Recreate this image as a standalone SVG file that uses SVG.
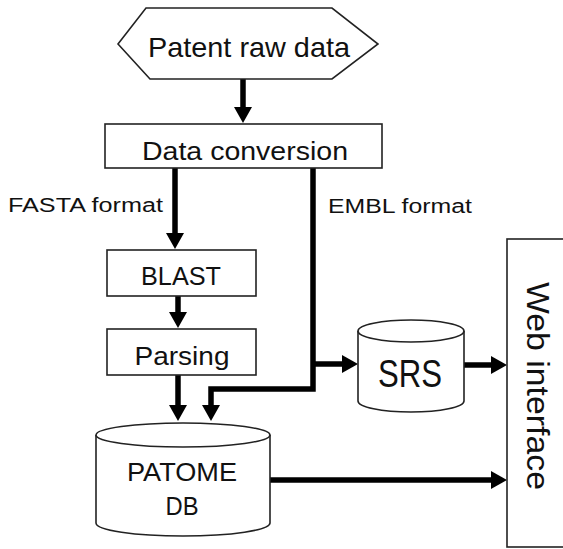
<svg xmlns="http://www.w3.org/2000/svg" width="563" height="549" viewBox="0 0 563 549">
<style>
.shape{fill:#fff;stroke:#222;stroke-width:1.6}
.conn{fill:none;stroke:#000;stroke-width:5.5}
text{font-family:"Liberation Sans",Arial,sans-serif;fill:#111}
.c{text-anchor:middle}
</style>
<defs>
<marker id="ah" viewBox="0 0 16 18" markerWidth="16" markerHeight="18" refX="4" refY="9" orient="auto" markerUnits="userSpaceOnUse">
<path d="M0,0 L16,9 L0,18 z" fill="#000"/>
</marker>
</defs>
<rect width="563" height="549" fill="#fff"/>
<g id="connectors">
<path class="conn" d="M243,79 V111" marker-end="url(#ah)"/>
<path class="conn" d="M175,168 V237" marker-end="url(#ah)"/>
<path class="conn" d="M178,296 V316" marker-end="url(#ah)"/>
<path class="conn" d="M178,375 V409" marker-end="url(#ah)"/>
<path class="conn" d="M313,168 V389 H211 V409" marker-end="url(#ah)"/>
<path class="conn" d="M313,364 H346" marker-end="url(#ah)"/>
<path class="conn" d="M464,365 H495" marker-end="url(#ah)"/>
<path class="conn" d="M270,480 H495" marker-end="url(#ah)"/>
</g>
<g id="patent-raw-data">
<polygon class="shape" points="118,44 146,8 332,8 378,44 332,79 150,79"/>
<text class="c" x="249" y="57" font-size="28" textLength="202" lengthAdjust="spacingAndGlyphs">Patent raw data</text>
</g>
<g id="data-conversion">
<rect class="shape" x="105" y="124" width="277" height="44"/>
<text class="c" x="245" y="160" font-size="25" textLength="206" lengthAdjust="spacingAndGlyphs">Data conversion</text>
</g>
<g id="fasta-label">
<text x="8" y="212" font-size="20" textLength="155" lengthAdjust="spacingAndGlyphs">FASTA format</text>
</g>
<g id="embl-label">
<text x="328" y="213" font-size="20" textLength="144" lengthAdjust="spacingAndGlyphs">EMBL format</text>
</g>
<g id="blast">
<rect class="shape" x="107" y="250" width="149" height="46"/>
<text class="c" x="181" y="285" font-size="26" textLength="80" lengthAdjust="spacingAndGlyphs">BLAST</text>
</g>
<g id="parsing">
<rect class="shape" x="107" y="329" width="149" height="46"/>
<text class="c" x="182" y="365" font-size="26" textLength="95" lengthAdjust="spacingAndGlyphs">Parsing</text>
</g>
<g id="patome-db">
<path class="shape" d="M96,435 V523 A87,13 0 0 0 270,523 V435"/>
<ellipse class="shape" cx="183" cy="435" rx="87" ry="12"/>
<text class="c" x="182" y="481" font-size="25" textLength="110" lengthAdjust="spacingAndGlyphs">PATOME</text>
<text class="c" x="182" y="515" font-size="25" textLength="33" lengthAdjust="spacingAndGlyphs">DB</text>
</g>
<g id="srs">
<path class="shape" d="M358,331 V401 A53,11 0 0 0 464,401 V331"/>
<ellipse class="shape" cx="411" cy="331" rx="53" ry="11"/>
<text class="c" x="410" y="387" font-size="38" textLength="64" lengthAdjust="spacingAndGlyphs">SRS</text>
</g>
<g id="web-interface">
<rect class="shape" x="507" y="239" width="80" height="308"/>
<text class="c" transform="translate(527,386) rotate(90)" x="0" y="0" font-size="31" textLength="208" lengthAdjust="spacingAndGlyphs">Web interface</text>
</g>
</svg>
